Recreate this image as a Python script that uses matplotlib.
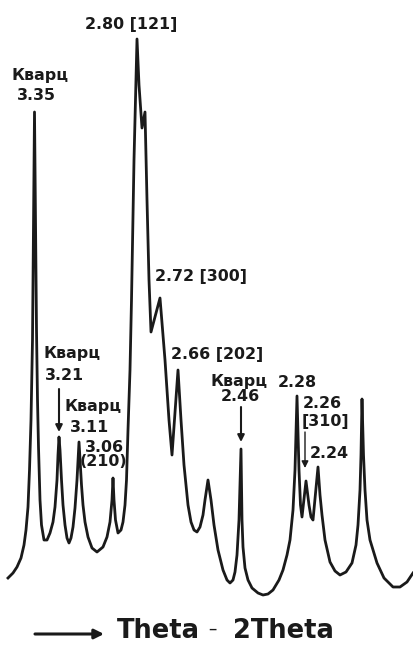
import matplotlib.pyplot as plt

plt.rcParams['font.family'] = ['DejaVu Sans']

# traced diffractogram: position (arb.) and intensity (arb.)
pos = [8, 13, 17, 21, 24, 26, 28, 29.5, 31, 32.5, 34.5,
       36.5, 37.5, 38.5, 40, 41.5, 44, 47, 50, 53, 55, 57, 58, 59,
       60, 61.5, 63, 65, 67, 69, 71, 73, 75, 77, 78, 79,
       80, 81.5, 83, 85, 88, 92, 97, 103, 107, 110, 112, 113,
       114, 115.5, 118, 121, 123, 125, 126.5, 128, 130, 131.5, 134, 137,
       139, 142, 145, 147, 149, 151, 160, 165, 169, 172, 178,
       181, 184, 188, 191, 194, 197, 200, 203, 205, 208,
       211, 214, 218, 223, 227, 230, 233, 235, 237, 239, 241,
       242, 243, 245, 248, 252, 258, 263, 268, 273, 279, 283, 287, 290, 293, 295, 297,
       299, 300.5, 302, 306, 309, 311, 313, 318,
       320, 322, 325, 330, 335, 340, 346, 352, 356, 358, 360, 361, 362,
       363.5, 365, 367, 370, 377, 384, 393, 400, 407, 413]
intensity = [68, 73, 79, 88, 101, 116, 139, 176, 226, 306, 534,
             316, 246, 199, 146, 121, 106, 106, 113, 124, 139, 166, 191, 209,
             196, 166, 141, 121, 108, 103, 108, 119, 138, 166, 186, 204,
             186, 161, 141, 124, 109, 98, 94, 99, 109, 124, 146, 168,
             146, 126, 113, 116, 124, 141, 166, 216, 276, 346, 486, 607,
             561, 518, 534, 446, 366, 314, 348, 286, 226, 191, 276,
             226, 181, 141, 124, 116, 114, 119, 131, 146, 166,
             146, 121, 96, 76, 66, 63, 66, 74, 91, 126, 197,
             126, 99, 78, 66, 58, 53, 51, 52, 56, 66, 76, 91, 106, 136, 176, 250,
             176, 141, 129, 165, 141, 129, 126, 179,
             151, 131, 106, 84, 75, 71, 74, 83, 101, 121, 156, 191, 247,
             191, 156, 126, 106, 83, 68, 59, 59, 64, 73]

fig = plt.figure(figsize=(4.13, 6.46), dpi=100)
ax = fig.add_axes([0, 0, 1, 1])
ax.set_xlim(0, 413)
ax.set_ylim(0, 646)
ax.axis('off')

ax.plot(pos, intensity, color='#1a1a1a', lw=2.0)

fs = 11.4
labels = [
    ("Кварц", 40.5, 566), ("3.35", 36, 546),
    ("2.80 [121]", 131, 617),
    ("2.72 [300]", 201, 365),
    ("2.66 [202]", 217.5, 287),
    ("Кварц", 72.5, 288), ("3.21", 64.5, 266),
    ("Кварц", 93.5, 235), ("3.11", 89.5, 214),
    ("3.06", 104.5, 194), ("(210)", 103, 180),
    ("Кварц", 239, 260), ("2.46", 240.5, 245),
    ("2.28", 297.5, 259),
    ("2.26", 322.5, 238), ("[310]", 325, 220),
    ("2.24", 329.5, 188),
]
for txt, x, y in labels:
    ax.text(x, y, txt, ha='center', va='baseline', fontsize=fs,
            fontweight='bold', color='#1a1a1a')

# arrows pointing to quartz / [310] peaks
arrows = [(59, 257, 214, 1.5), (241, 239, 204, 1.5), (305, 214, 178, 1.0)]
for x, y0, y1, w in arrows:
    ax.annotate('', xy=(x, y1), xytext=(x, y0),
                arrowprops=dict(arrowstyle='-|>', lw=w, color='#1a1a1a',
                                mutation_scale=10, shrinkA=0, shrinkB=0))

# bottom axis caption
ax.annotate('', xy=(104, 12), xytext=(35, 12),
            arrowprops=dict(arrowstyle='-|>', lw=2.2, color='#1a1a1a',
                            mutation_scale=14, shrinkA=0, shrinkB=0))
ax.text(117, 8, "Theta", ha='left', va='baseline', fontsize=18.5,
        fontweight='bold', color='#1a1a1a')
ax.text(212, 12, "–", ha='center', va='baseline', fontsize=12, color='#1a1a1a')
ax.text(233, 8, "2Theta", ha='left', va='baseline', fontsize=18.5,
        fontweight='bold', color='#1a1a1a')

fig.savefig('out.png', dpi=100)
